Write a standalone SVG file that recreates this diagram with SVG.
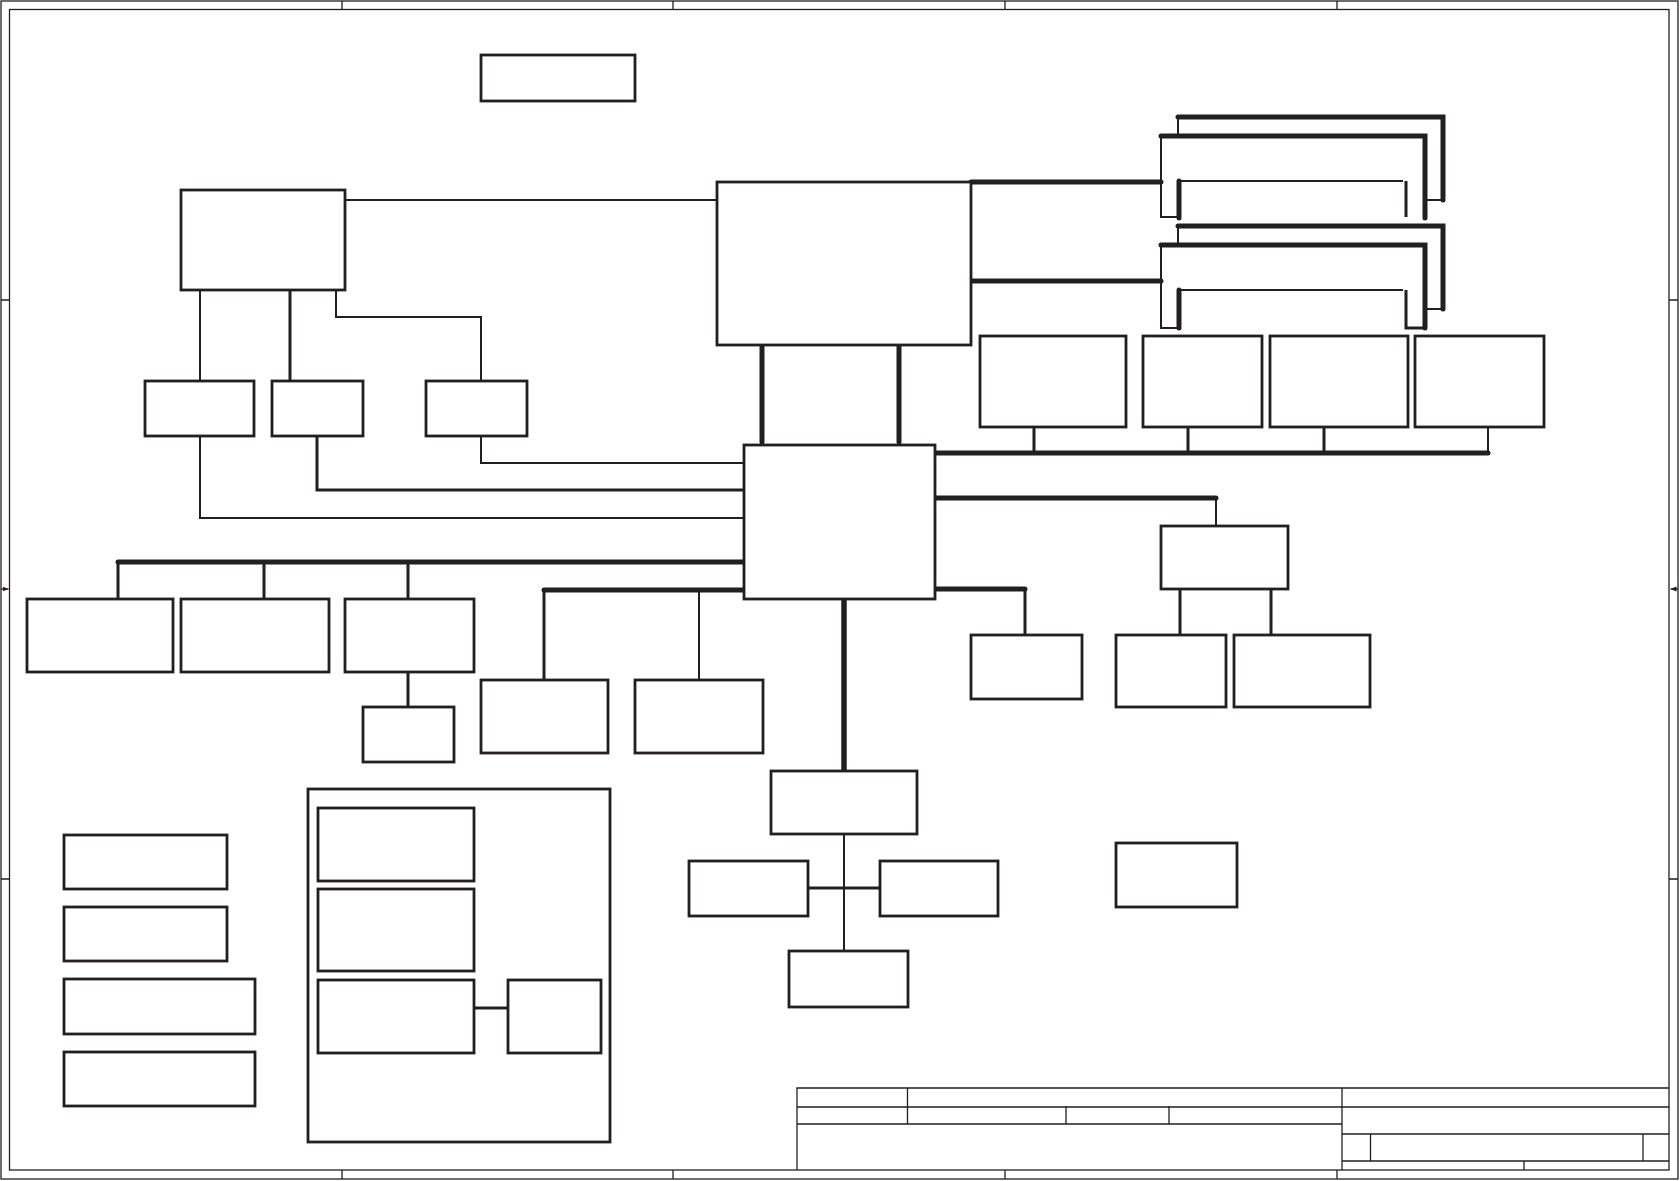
<svg xmlns="http://www.w3.org/2000/svg" width="1680" height="1181" viewBox="0 0 1680 1181">
<style>
.frame{fill:none;stroke:#231f20;stroke-width:1.3}
.box{fill:#fff;stroke:#231f20;stroke-width:2.8}
.c{fill:none;stroke:#231f20;stroke-width:2;stroke-linecap:butt}
.m{fill:none;stroke:#231f20;stroke-width:3}
.t{fill:none;stroke:#231f20;stroke-width:5;stroke-linecap:round}
</style>
<defs>
<marker id="ar" viewBox="0 0 6 6" refX="6" refY="3" markerWidth="6" markerHeight="6" orient="auto" markerUnits="userSpaceOnUse">
<path d="M0,0.5 L6,3 L0,5.5 Z" fill="#231f20"/>
</marker>
</defs>
<rect width="1680" height="1181" fill="#fff"/>
<g id="frame">
<rect class="frame" x="1" y="1" width="1677" height="1178"/>
<rect class="frame" x="9.5" y="9.5" width="1659.5" height="1160.5"/>
<path class="frame" d="M342,1V9.5M673,1V9.5M1005,1V9.5M1337,1V9.5M342,1170V1179M673,1170V1179M1005,1170V1179M1337,1170V1179M1,300H9.5M1,879H9.5M1669,300H1678M1669,879H1678"/>
<path class="frame" d="M1,589H8.5" marker-end="url(#ar)"/>
<path class="frame" d="M1678,589H1670.5" marker-end="url(#ar)"/>
</g>
<g id="title-block">
<path class="frame" d="M797,1170V1088H1669M797,1107H1342M907.5,1088V1124M1066,1106V1124M1169,1106V1124M797,1124H1342M1342,1088V1170M1342,1107H1669M1342,1134H1669M1370.5,1134V1161M1643,1134V1161M1342,1161H1669M1524,1161V1170"/>
</g>
<g id="n-container"><rect class="box" x="308" y="789" width="302" height="353" style="fill:none"/></g>
<g id="connectors">
<path class="c" d="M345,200H717"/>
<path class="c" d="M200,290V381"/>
<path class="m" d="M290,290V381"/>
<path class="c" d="M336,290V317H481V381"/>
<path class="c" d="M481,436V463H744"/>
<path class="m" d="M317,436V490H744"/>
<path class="c" d="M200,436V518H744"/>
<path class="t" d="M762,345V442M899,345V442"/>
<path class="t" d="M971,182H1161M971,281H1161"/>
<path class="t" d="M935,453H1488"/>
<path class="m" d="M1034,426V453M1188,426V453M1324,426V453"/>
<path class="c" d="M1488,426V453"/>
<path class="t" d="M935,498H1216"/>
<path class="c" d="M1216,498V526"/>
<path class="m" d="M1180,589V635M1271,589V635"/>
<path class="t" d="M935,589H1025"/>
<path class="m" d="M1025,589V635"/>
<path class="t" d="M118,562H744"/>
<path class="m" d="M118,562V599M264,562V599M408,562V599"/>
<path class="m" d="M408,672V707"/>
<path class="t" d="M544,590H744"/>
<path class="m" d="M544,590V680"/>
<path class="c" d="M699,590V680"/>
<path class="t" d="M844,599V770" style="stroke-linecap:butt;stroke-width:5.5"/>
<path class="c" d="M844,834V951"/>
<path class="m" d="M807,888H880"/>
<path class="m" d="M474,1008H508"/>
</g>
<g id="dimm-a">
<path class="c" d="M1178,137V117"/>
<path class="t" d="M1178,117H1443V200"/>
<path class="c" d="M1443,200H1427"/>
<path class="c" d="M1161,136V217H1179"/>
<path class="t" d="M1161,136H1425V218"/>
<path class="t" d="M1179,181V218"/>
<path class="c" d="M1179,181H1403"/>
<path class="m" d="M1406,181V217"/>
</g>
<g id="dimm-b">
<path class="c" d="M1178,246V226"/>
<path class="t" d="M1178,226H1443V309"/>
<path class="c" d="M1443,309H1427"/>
<path class="c" d="M1161,245V328H1179"/>
<path class="t" d="M1161,245H1425V328"/>
<path class="t" d="M1179,290V328"/>
<path class="c" d="M1179,290H1403"/>
<path class="m" d="M1406,290V328H1425"/>
</g>
<g id="n-top"><rect class="box" x="481" y="55" width="154" height="46"/></g>
<g id="n-cpu"><rect class="box" x="181" y="190" width="164" height="100"/></g>
<g id="n-nb"><rect class="box" x="717" y="182" width="254" height="163"/></g>
<g id="n-sb"><rect class="box" x="744" y="445" width="191" height="154"/></g>
<g id="n-a"><rect class="box" x="145" y="381" width="109" height="55"/></g>
<g id="n-b"><rect class="box" x="272" y="381" width="91" height="55"/></g>
<g id="n-c"><rect class="box" x="426" y="381" width="101" height="55"/></g>
<g id="n-r1"><rect class="box" x="980" y="336" width="146" height="91"/></g>
<g id="n-r2"><rect class="box" x="1143" y="336" width="119" height="91"/></g>
<g id="n-r3"><rect class="box" x="1270" y="336" width="138" height="91"/></g>
<g id="n-r4"><rect class="box" x="1415" y="336" width="129" height="91"/></g>
<g id="n-hub2"><rect class="box" x="1161" y="526" width="127" height="63"/></g>
<g id="n-h2a"><rect class="box" x="1116" y="635" width="110" height="72"/></g>
<g id="n-h2b"><rect class="box" x="1234" y="635" width="136" height="72"/></g>
<g id="n-r5"><rect class="box" x="971" y="635" width="111" height="64"/></g>
<g id="n-l1"><rect class="box" x="27" y="599" width="146" height="73"/></g>
<g id="n-l2"><rect class="box" x="181" y="599" width="148" height="73"/></g>
<g id="n-l3"><rect class="box" x="345" y="599" width="129" height="73"/></g>
<g id="n-l3a"><rect class="box" x="363" y="707" width="91" height="55"/></g>
<g id="n-m1"><rect class="box" x="481" y="680" width="127" height="73"/></g>
<g id="n-m2"><rect class="box" x="635" y="680" width="128" height="73"/></g>
<g id="n-d"><rect class="box" x="771" y="771" width="146" height="63"/></g>
<g id="n-d1"><rect class="box" x="689" y="861" width="119" height="55"/></g>
<g id="n-d2"><rect class="box" x="880" y="861" width="118" height="55"/></g>
<g id="n-d3"><rect class="box" x="789" y="951" width="119" height="56"/></g>
<g id="n-lone"><rect class="box" x="1116" y="843" width="121" height="64"/></g>
<g id="n-p1"><rect class="box" x="64" y="835" width="163" height="54"/></g>
<g id="n-p2"><rect class="box" x="64" y="907" width="163" height="54"/></g>
<g id="n-p3"><rect class="box" x="64" y="979" width="191" height="55"/></g>
<g id="n-p4"><rect class="box" x="64" y="1052" width="191" height="54"/></g>
<g id="n-k1"><rect class="box" x="318" y="808" width="156" height="73"/></g>
<g id="n-k2"><rect class="box" x="318" y="889" width="156" height="82"/></g>
<g id="n-k3"><rect class="box" x="318" y="980" width="156" height="73"/></g>
<g id="n-k4"><rect class="box" x="508" y="980" width="93" height="73"/></g>
</svg>
